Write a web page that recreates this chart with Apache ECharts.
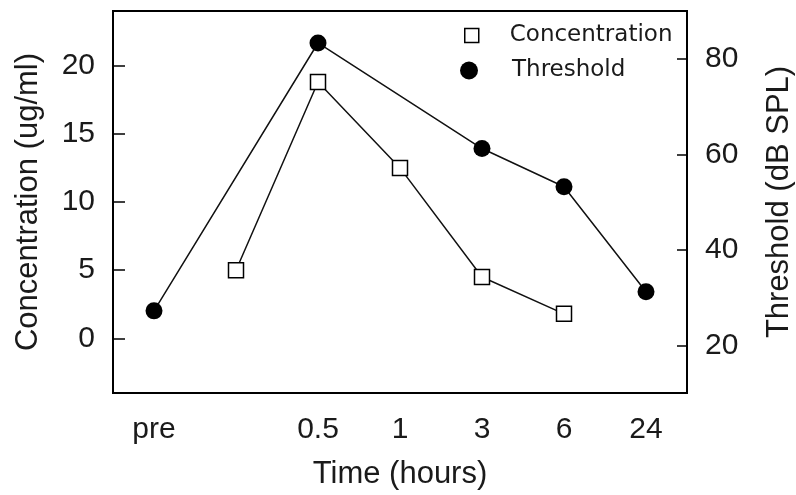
<!DOCTYPE html>
<html>
<head>
<meta charset="utf-8">
<script src="https://cdn.jsdelivr.net/npm/echarts@6/dist/echarts.min.js"></script>
<style>html,body{margin:0;padding:0;background:#fff;}#chart{width:796px;height:495px;}</style>
</head>
<body>
<div id="chart"></div>
<script>
const categories = ['pre', '', '0.5', '1', '3', '6', '24'];
const concentration = [null, 5.0, 18.8, 12.5, 4.5, 1.8, null];
const threshold = [27.2, null, 83.3, null, 61.2, 53.2, 31.2];
const leftTicks = [0, 5, 10, 15, 20];
const rightTicks = [20, 40, 60, 80];

const FONT = '"Liberation Sans", Arial, sans-serif';
const TXT = '#1a1a1a';

const chart = echarts.init(document.getElementById('chart'), null, {renderer: 'canvas'});
chart.setOption({
  backgroundColor: '#fff',
  animation: false,
  grid: {left: 113, right: 109, top: 11, bottom: 102, show: true, borderColor: '#000', borderWidth: 2,
    backgroundColor: 'transparent', containLabel: false, outerBoundsMode: 'none'},
  legend: [
    {
      left: 459, top: 19, orient: 'vertical', itemWidth: 14, itemHeight: 14,
      data: [{name: 'Concentration', icon: 'rect', itemStyle: {color: '#fff', borderColor: '#000', borderWidth: 1.5}}],
      textStyle: {fontFamily: '"DejaVu Sans", sans-serif', fontSize: 23, color: TXT, padding: [0, 0, 0, 26]}
    },
    {
      left: 455, top: 54, orient: 'vertical', itemWidth: 18, itemHeight: 18,
      data: [{name: 'Threshold', icon: 'circle', itemStyle: {color: '#000', borderWidth: 0}}],
      textStyle: {fontFamily: '"DejaVu Sans", sans-serif', fontSize: 23, color: TXT, padding: [0, 0, 0, 29]}
    }
  ],
  xAxis: {
    type: 'category', data: categories, boundaryGap: true,
    name: 'Time (hours)', nameLocation: 'middle', nameGap: 66,
    nameTextStyle: {fontFamily: FONT, fontSize: 31, color: TXT, lineHeight: 31},
    axisLine: {onZero: false, lineStyle: {color: '#000', width: 2}},
    axisTick: {inside: false, alignWithLabel: true, length: -10, lineStyle: {color: '#000', width: 1.5}},
    axisLabel: {fontFamily: FONT, fontSize: 30, color: TXT, margin: 22, lineHeight: 30},
    splitLine: {show: false}
  },
  yAxis: [
    {
      type: 'value', min: -4, max: 24, position: 'left',
      name: 'Concentration (ug/ml)', nameLocation: 'middle', nameRotate: 90, nameGap: 69,
      nameTextStyle: {fontFamily: FONT, fontSize: 31, color: TXT, lineHeight: 31},
      axisLine: {show: true, onZero: false, lineStyle: {color: '#000', width: 2}},
      axisTick: {show: true, inside: false, length: -12, lineStyle: {color: '#000', width: 1.5}},
      axisLabel: {fontFamily: FONT, fontSize: 30, color: TXT, margin: 18,
        formatter: v => leftTicks.includes(v) ? String(v) : ''},
      splitLine: {show: false}
    },
    {
      type: 'value', min: 10, max: 90, position: 'right',
      name: 'Threshold (dB SPL)', nameLocation: 'middle', nameRotate: 90, nameGap: 77,
      nameTextStyle: {fontFamily: FONT, fontSize: 31, color: TXT, lineHeight: 31},
      axisLine: {show: true, onZero: false, lineStyle: {color: '#000', width: 2}},
      axisTick: {show: true, inside: false, length: -10, lineStyle: {color: '#000', width: 1.5}},
      axisLabel: {fontFamily: FONT, fontSize: 30, color: TXT, margin: 18,
        formatter: v => rightTicks.includes(v) ? String(v) : ''},
      splitLine: {show: false}
    }
  ],
  series: [
    {
      name: 'Concentration', type: 'line', yAxisIndex: 0, data: concentration,
      symbol: 'rect', symbolSize: 15, connectNulls: true,
      lineStyle: {color: '#111', width: 1.5},
      itemStyle: {color: '#fff', borderColor: '#000', borderWidth: 1.5},
      z: 3
    },
    {
      name: 'Threshold', type: 'line', yAxisIndex: 1, data: threshold,
      symbol: 'circle', symbolSize: 17, connectNulls: true,
      lineStyle: {color: '#111', width: 1.5},
      itemStyle: {color: '#000', borderWidth: 0},
      z: 3
    }
  ]
});
</script>
</body>
</html>
